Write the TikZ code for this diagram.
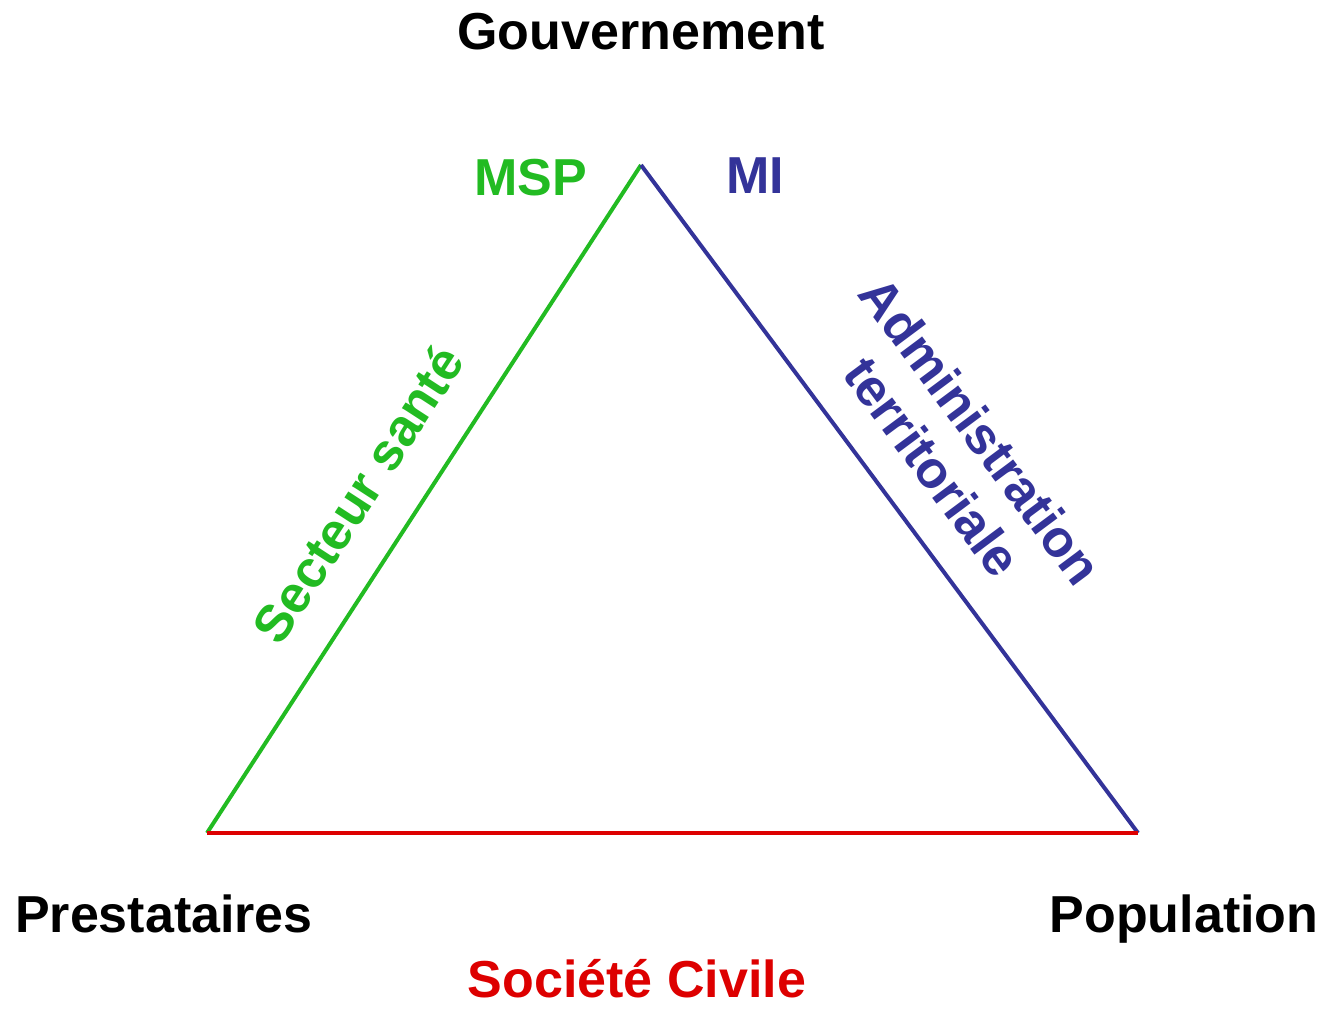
\documentclass[tikz,border=0pt]{standalone}
\usepackage{fontspec}
\setmainfont{Liberation Sans}
\usetikzlibrary{arrows}

\definecolor{msp}{RGB}{34,187,34}
\definecolor{mi}{RGB}{51,51,153}
\definecolor{civ}{RGB}{221,0,0}

\begin{document}
\begin{tikzpicture}[x=1pt, y=1pt, semithick]
  \tikzstyle{every node}=[font=\fontsize{52}{60}\selectfont\bfseries, inner sep=0pt]
  \tikzstyle{side}=[line width=4pt]

  \useasboundingbox (0,0) rectangle (1328,1010);

  \coordinate (G) at (641,845);
  \coordinate (P) at (207,177);
  \coordinate (O) at (1138,177);

  \node[anchor=base]        (gouv)  at (641,960)  {Gouvernement};
  \node[anchor=base, msp]   (msp)   at (531,814)  {MSP};
  \node[anchor=base, mi]    (mi)    at (755,816)  {MI};
  \node[anchor=base]        (prest) at (164,78)   {Prestataires};
  \node[anchor=base]        (pop)   at (1184,78)  {Population};
  \node[anchor=base, civ]   (soc)   at (637,13)   {Société Civile};

  \draw[side, msp] (P) -- node[sloped, above=37pt, pos=0.46] (sante) {Secteur santé} (G);
  \draw[side, mi]  (G) -- node[sloped, above=33pt, pos=0.5, align=center] (admin) {Administration\\territoriale} (O);
  %\draw[side, civ] (O) -- (P);
  \draw[side, civ] (P) -- (O);
\end{tikzpicture}
\end{document}
